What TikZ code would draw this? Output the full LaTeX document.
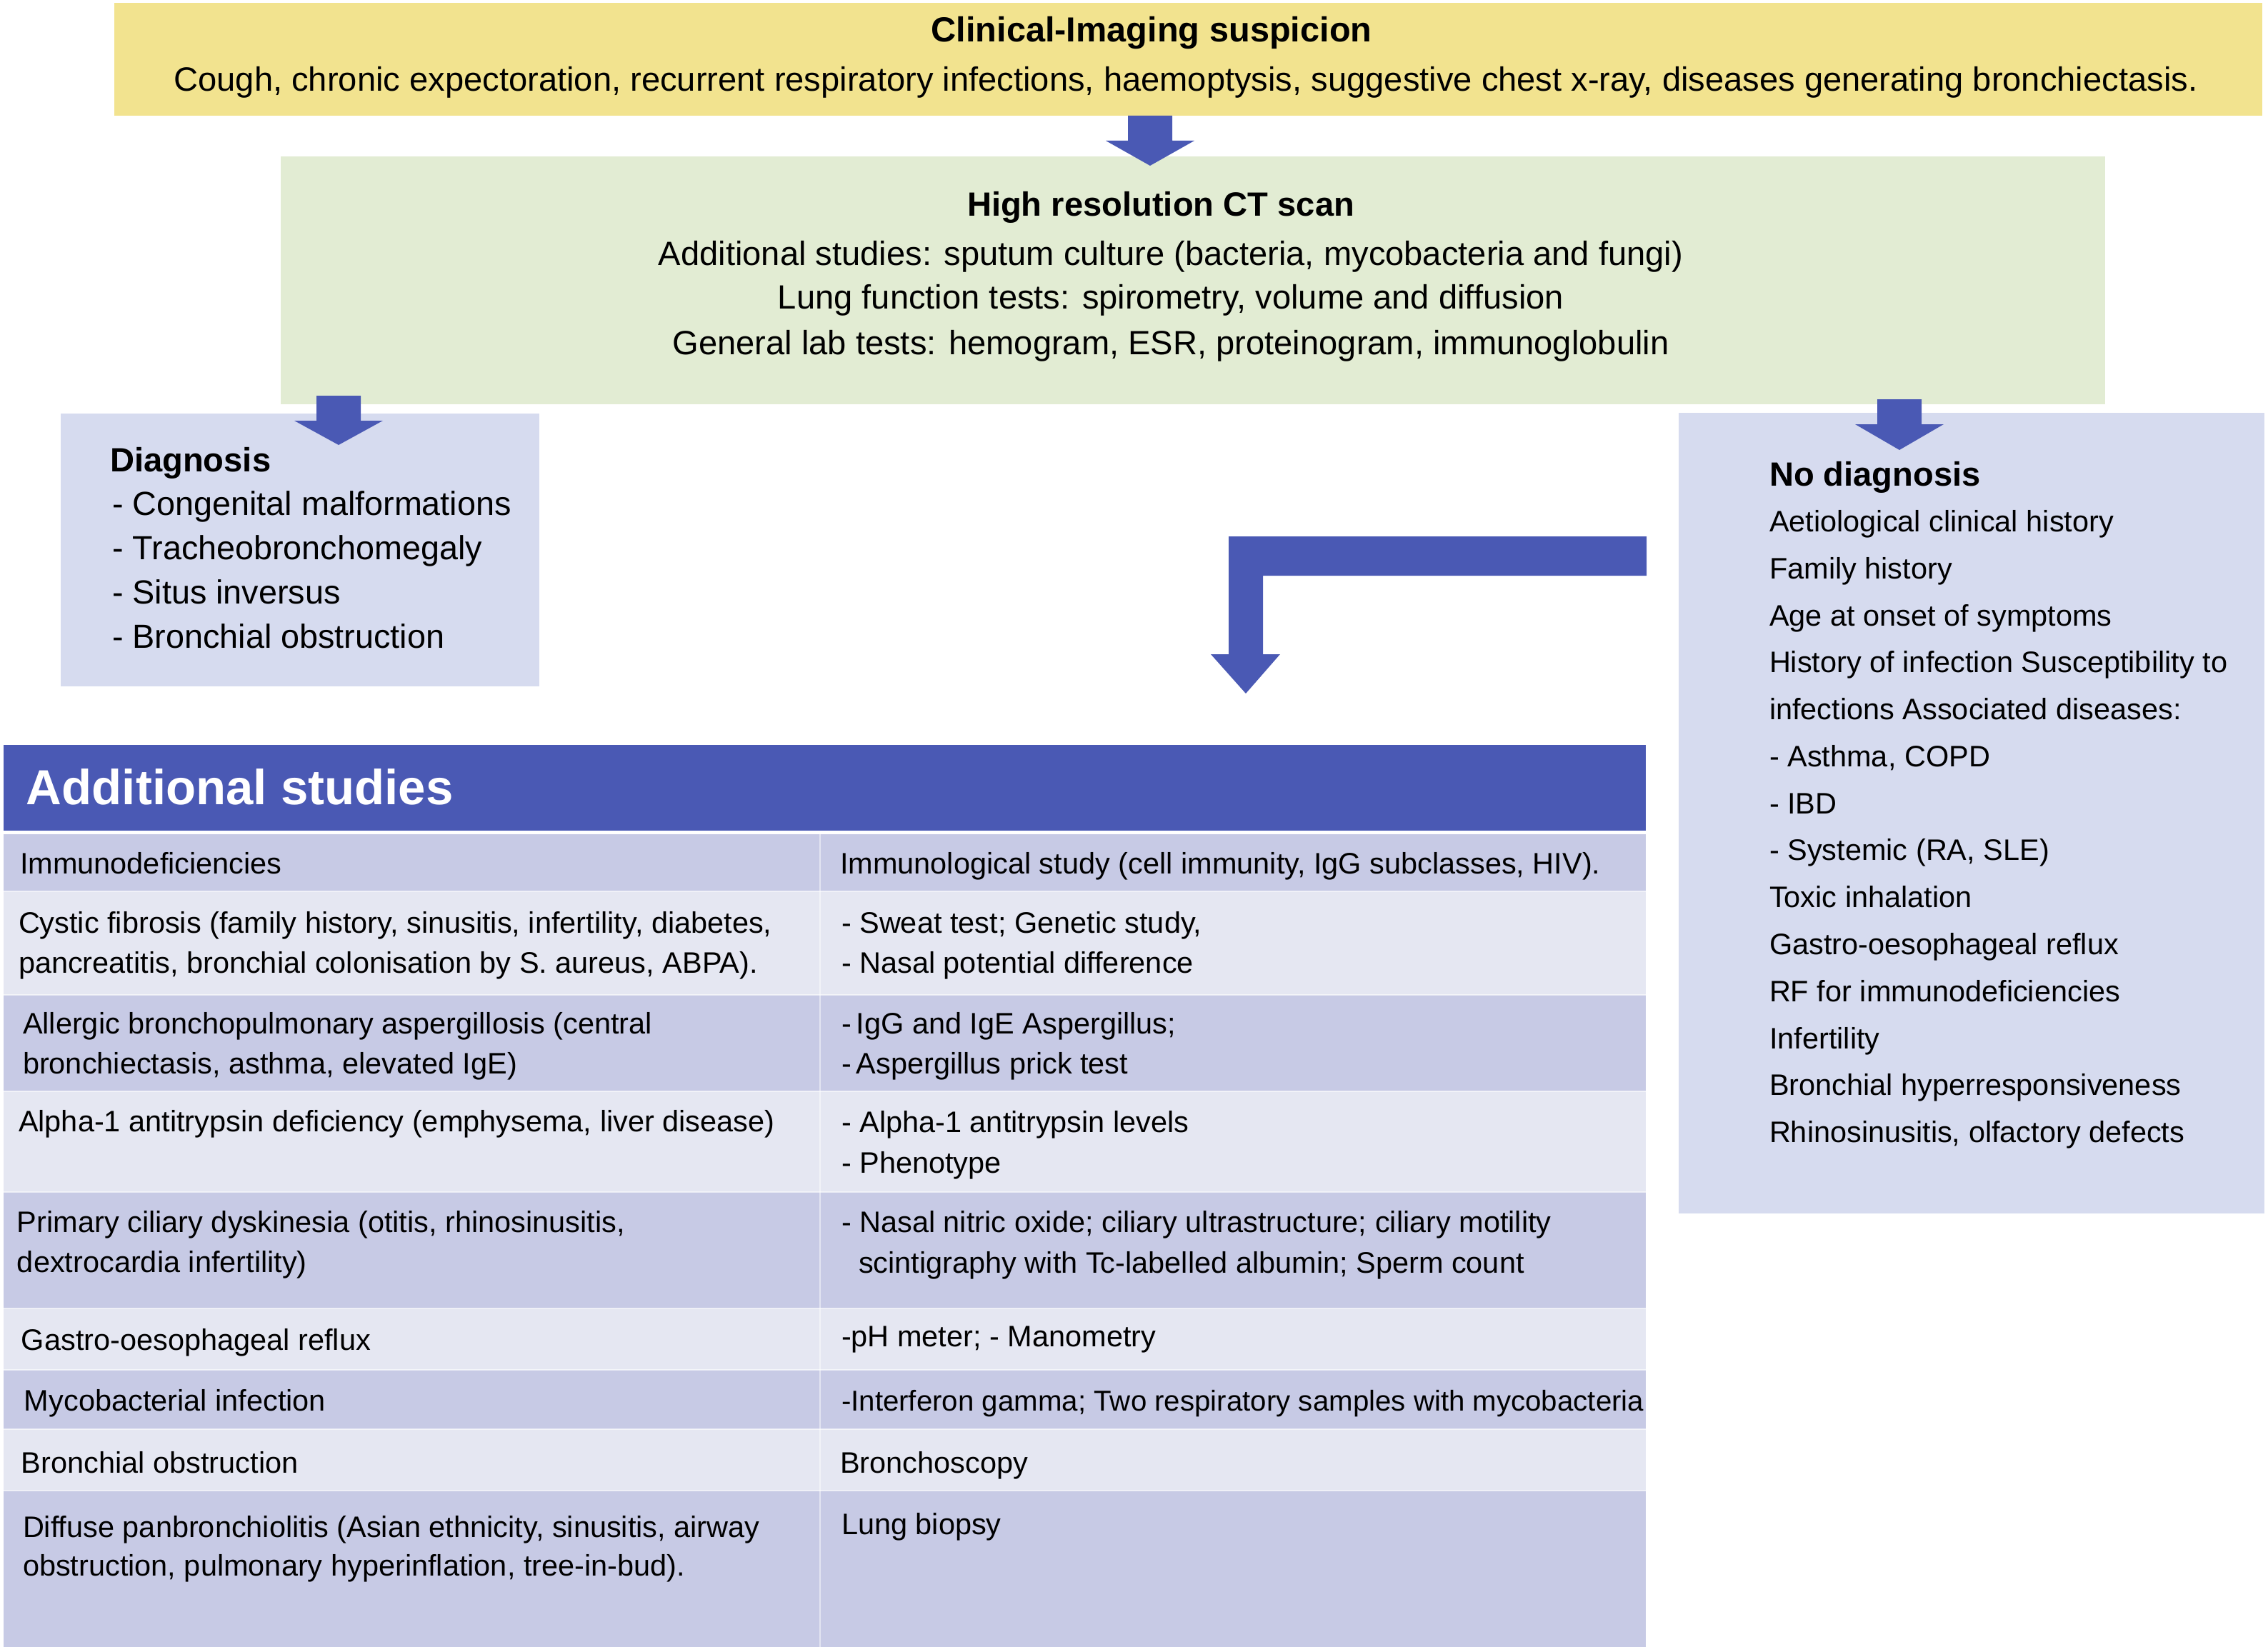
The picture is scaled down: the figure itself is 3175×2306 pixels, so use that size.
\documentclass[tikz,border=0pt]{standalone}
\usepackage{fontspec}
\setmainfont{Liberation Sans}
\definecolor{arrowblue}{RGB}{74,89,180}
\definecolor{yellowbg}{RGB}{242,227,143}
\definecolor{greenbg}{RGB}{226,236,211}
\definecolor{lilacbg}{RGB}{214,219,239}
\definecolor{rowdark}{RGB}{199,202,229}
\definecolor{rowlight}{RGB}{229,231,242}
\newcommand\bodyfont{\fontsize{13.4pt}{16pt}\selectfont}
\newcommand\tabfont{\fontsize{11.8pt}{14pt}\selectfont}
\newcommand\headfont{\fontsize{13.4pt}{16pt}\selectfont\bfseries}
\newcommand\diagfont{\fontsize{13.3pt}{16pt}\selectfont}
\newcommand\blockdown[4]{%
  \fill[arrowblue] (#1-31,#2) -- (#1+31,#2) -- (#1+31,#3) -- (#1+62,#3) -- (#1,#4) -- (#1-62,#3) -- (#1-31,#3) -- cycle;}
\tikzset{
  txt/.style={anchor=base west,inner sep=0pt,outer sep=0pt,font=\tabfont},
  ctxt/.style={anchor=base,inner sep=0pt,outer sep=0pt,font=\bodyfont},
  panel/.style={inner sep=0pt,outer sep=0pt,anchor=north west},
}
\begin{document}
\begin{tikzpicture}[x=0.01cm,y=-0.01cm]
\useasboundingbox (0,0) rectangle (3175,2306);
% boxes
\node[panel,fill=yellowbg,minimum width=30.05cm,minimum height=1.58cm] (susp) at (160,4) {};
\node[panel,fill=greenbg,minimum width=25.52cm,minimum height=3.47cm] (ct) at (393,219) {};
\node[panel,fill=lilacbg,minimum width=6.70cm,minimum height=3.82cm] (diag) at (85,579) {};
\node[panel,fill=lilacbg,minimum width=8.19cm,minimum height=11.20cm] (nodiag) at (2350,578) {};
% block arrows
\blockdown{1610}{162}{197}{232}
\blockdown{474}{554}{589}{623}
\blockdown{2659}{559}{594}{630}
\fill[arrowblue] (2305,751) -- (1720,751) -- (1720,916) -- (1695,916) -- (1744,971) -- (1792,916) -- (1768,916) -- (1768,806) -- (2305,806) -- cycle;
% texts yellow
\node[ctxt,font=\fontsize{13.85pt}{16pt}\selectfont\bfseries] (t1) at (1612,59) {Clinical-Imaging suspicion};
\node[ctxt] (t2) at (1660,128) {Cough, chronic expectoration, recurrent respiratory infections, haemoptysis, suggestive chest x-ray, diseases generating bronchiectasis.};
% green
\node[ctxt,font=\headfont] (g1) at (1625,302) {High resolution CT scan};
\node[ctxt] (g2) at (1639,371) {Additional studies: sputum culture (bacteria, mycobacteria and fungi)};
\node[ctxt] (g3) at (1639,432) {Lung function tests: spirometry, volume and diffusion};
\node[ctxt] (g4) at (1639,496) {General lab tests: hemogram, ESR, proteinogram, immunoglobulin};
% diagnosis
\node[txt,font=\headfont] (d0) at (154,660) {Diagnosis};
\node[txt,font=\diagfont] (d1) at (157,721) {- Congenital malformations};
\node[txt,font=\diagfont] (d2) at (157,783) {- Tracheobronchomegaly};
\node[txt,font=\diagfont] (d3) at (157,845) {- Situs inversus};
\node[txt,font=\diagfont] (d4) at (157,907) {- Bronchial obstruction};
% no diagnosis
\node[txt,font=\headfont] (n0) at (2477,680) {No diagnosis};
\node[txt] (n1) at (2477,744) {Aetiological clinical history};
\node[txt] (n2) at (2477,810) {Family history};
\node[txt] (n3) at (2477,876) {Age at onset of symptoms};
\node[txt] (n4) at (2477,941) {History of infection Susceptibility to};
\node[txt] (n5) at (2477,1007) {infections Associated diseases:};
\node[txt] (n6) at (2477,1073) {- Asthma, COPD};
\node[txt] (n7) at (2477,1139) {- IBD};
\node[txt] (n8) at (2477,1204) {- Systemic (RA, SLE)};
\node[txt] (n9) at (2477,1270) {Toxic inhalation};
\node[txt] (n10) at (2477,1336) {Gastro-oesophageal reflux};
\node[txt] (n11) at (2477,1402) {RF for immunodeficiencies};
\node[txt] (n12) at (2477,1468) {Infertility};
\node[txt] (n13) at (2477,1533) {Bronchial hyperresponsiveness};
\node[txt] (n14) at (2477,1599) {Rhinosinusitis, olfactory defects};
% table
\fill[arrowblue] (5,1043) rectangle (2304,1163);
\node[txt,text=white,font=\fontsize{19.6pt}{22pt}\selectfont\bfseries] (hdr) at (37,1126) {Additional studies};
\fill[rowdark]  (5,1168) rectangle (2304,1248);
\fill[rowlight] (5,1248) rectangle (2304,1393);
\fill[rowdark]  (5,1393) rectangle (2304,1528);
\fill[rowlight] (5,1528) rectangle (2304,1669);
\fill[rowdark]  (5,1669) rectangle (2304,1832);
\fill[rowlight] (5,1832) rectangle (2304,1918);
\fill[rowdark]  (5,1918) rectangle (2304,2001);
\fill[rowlight] (5,2001) rectangle (2304,2087);
\fill[rowdark]  (5,2087) rectangle (2304,2306);
\foreach \yy in {1248,1393,1528,1669,1832,1918,2001,2087}
  \draw[white,opacity=0.6,line width=0.8pt] (5,\yy) -- (2304,\yy);
\draw[white,opacity=0.5,line width=0.8pt] (1148,1168) -- (1148,2306);
\node[txt] (r1l) at (28,1223) {Immunodeficiencies};
\node[txt] (r1r) at (1176,1223) {Immunological study (cell immunity, IgG subclasses, HIV).};
\node[txt] (r2l) at (26,1306) {Cystic fibrosis (family history, sinusitis, infertility, diabetes,};
\node[txt] (r2lb) at (26,1362) {pancreatitis, bronchial colonisation by S. aureus, ABPA).};
\node[txt] (r2r) at (1178,1306) {- Sweat test; Genetic study,};
\node[txt] (r2rb) at (1178,1362) {- Nasal potential difference};
\node[txt] (r3l) at (32,1447) {Allergic bronchopulmonary aspergillosis (central};
\node[txt] (r3lb) at (32,1503) {bronchiectasis, asthma, elevated IgE)};
\node[txt] (r3r) at (1178,1447) {-\,IgG and IgE Aspergillus;};
\node[txt] (r3rb) at (1178,1503) {-\,Aspergillus prick test};
\node[txt] (r4l) at (26,1584) {Alpha-1 antitrypsin deficiency (emphysema, liver disease)};
\node[txt] (r4r) at (1178,1585) {- Alpha-1 antitrypsin levels};
\node[txt] (r4rb) at (1178,1642) {- Phenotype};
\node[txt] (r5l) at (24,1725) {Primary ciliary dyskinesia (otitis, rhinosinusitis,};
\node[txt] (r5lb) at (24,1781) {dextrocardia infertility)};
\node[txt] (r5r) at (1178,1725) {- Nasal nitric oxide; ciliary ultrastructure; ciliary motility};
\node[txt] (r5rb) at (1202,1782) {scintigraphy with Tc-labelled albumin; Sperm count};
\node[txt] (r6l) at (30,1890) {Gastro-oesophageal reflux};
\node[txt] (r6r) at (1178,1885) {-pH meter; - Manometry};
\node[txt] (r7l) at (34,1975) {Mycobacterial infection};
\node[txt,font=\fontsize{11.45pt}{14pt}\selectfont] (r7r) at (1178,1975) {-Interferon gamma; Two respiratory samples with mycobacteria};
\node[txt] (r8l) at (30,2062) {Bronchial obstruction};
\node[txt] (r8r) at (1176,2062) {Bronchoscopy};
\node[txt] (r9l) at (32,2152) {Diffuse panbronchiolitis (Asian ethnicity, sinusitis, airway};
\node[txt] (r9lb) at (32,2206) {obstruction, pulmonary hyperinflation, tree-in-bud).};
\node[txt] (r9r) at (1178,2148) {Lung biopsy};
\end{tikzpicture}
\end{document}
